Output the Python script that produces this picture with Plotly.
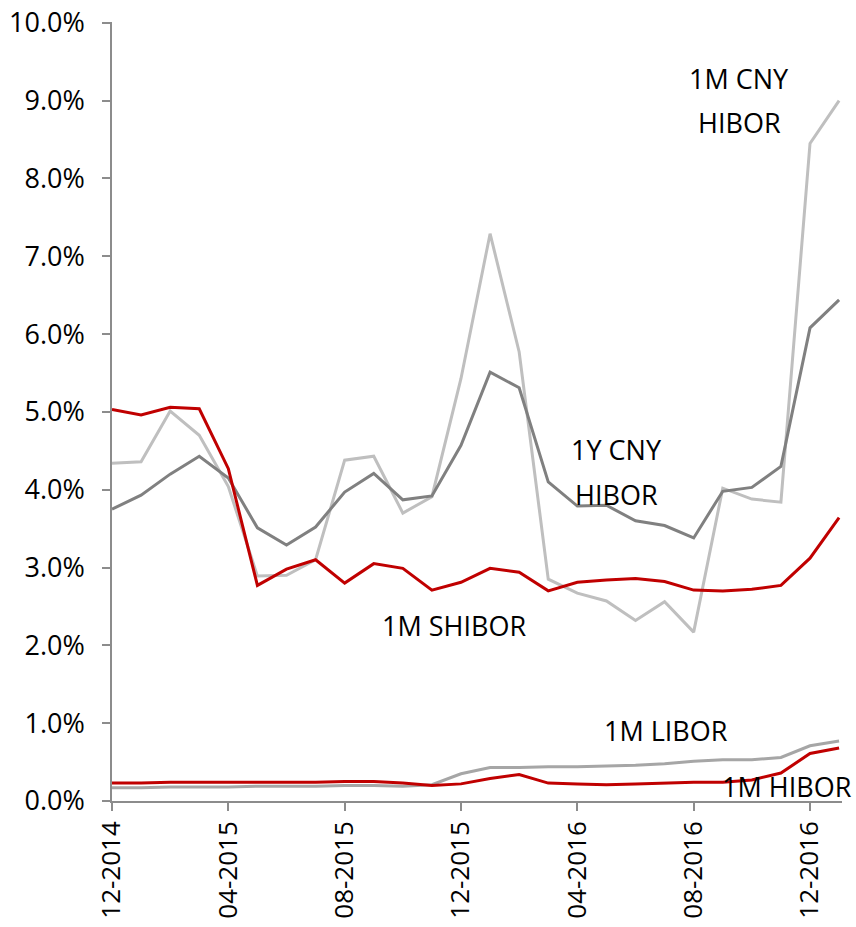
import plotly.graph_objects as go

months = ["12-2014", "01-2015", "02-2015", "03-2015", "04-2015", "05-2015", "06-2015",
          "07-2015", "08-2015", "09-2015", "10-2015", "11-2015", "12-2015", "01-2016",
          "02-2016", "03-2016", "04-2016", "05-2016", "06-2016", "07-2016", "08-2016",
          "09-2016", "10-2016", "11-2016", "12-2016", "01-2017"]
tick_labels = ["12-2014", "04-2015", "08-2015", "12-2015", "04-2016", "08-2016", "12-2016"]

cny_1m_hibor = [4.34, 4.36, 5.01, 4.70, 4.04, 2.89, 2.90, 3.10, 4.38, 4.43, 3.70, 3.91, 5.43,
                7.29, 5.77, 2.85, 2.67, 2.57, 2.32, 2.56, 2.17, 4.02, 3.88, 3.84, 8.45, 9.00]
cny_1y_hibor = [3.75, 3.93, 4.20, 4.43, 4.15, 3.51, 3.29, 3.52, 3.97, 4.21, 3.87, 3.92, 4.57,
                5.51, 5.31, 4.10, 3.79, 3.80, 3.60, 3.54, 3.38, 3.98, 4.03, 4.30, 6.08, 6.44]
shibor_1m = [5.03, 4.96, 5.06, 5.04, 4.27, 2.77, 2.98, 3.10, 2.80, 3.05, 2.99, 2.71, 2.81,
             2.99, 2.94, 2.70, 2.81, 2.84, 2.86, 2.82, 2.71, 2.70, 2.72, 2.77, 3.12, 3.64]
libor_1m = [0.17, 0.17, 0.18, 0.18, 0.18, 0.19, 0.19, 0.19, 0.20, 0.20, 0.19, 0.21, 0.35,
            0.43, 0.43, 0.44, 0.44, 0.45, 0.46, 0.48, 0.51, 0.53, 0.53, 0.56, 0.71, 0.77]
hibor_1m = [0.23, 0.23, 0.24, 0.24, 0.24, 0.24, 0.24, 0.24, 0.25, 0.25, 0.23, 0.20, 0.22,
            0.29, 0.34, 0.23, 0.22, 0.21, 0.22, 0.23, 0.24, 0.24, 0.27, 0.36, 0.61, 0.68]

FONT = "Open Sans"
series = [
    ("1M LIBOR", libor_1m, "#A6A6A6"),
    ("1M HIBOR", hibor_1m, "#C00000"),
    ("1M CNY HIBOR", cny_1m_hibor, "#BFBFBF"),
    ("1Y CNY HIBOR", cny_1y_hibor, "#808080"),
    ("1M SHIBOR", shibor_1m, "#C00000"),
]

fig = go.Figure()
for name, vals, col in series:
    fig.add_trace(go.Scatter(x=months, y=[v / 100 for v in vals], mode="lines", name=name,
                             line=dict(color=col, width=3), cliponaxis=False))

labels = [
    ("1M CNY", 21.57, 0.0929),
    ("HIBOR", 21.57, 0.0872),
    ("1Y CNY", 17.34, 0.0452),
    ("HIBOR", 17.34, 0.0394),
    ("1M SHIBOR", 11.77, 0.0225),
    ("1M LIBOR", 19.06, 0.0090),
    ("1M HIBOR", 23.22, 0.0019),
]
for txt, xx, yy in labels:
    fig.add_annotation(x=xx, y=yy, xref="x", yref="y", text=txt, showarrow=False,
                       font=dict(family=FONT, size=27, color="black"),
                       xanchor="center", yanchor="middle")

fig.update_layout(
    width=856, height=927,
    margin=dict(l=112, r=14, t=22, b=126),
    paper_bgcolor="white", plot_bgcolor="white",
    showlegend=False,
    font=dict(family=FONT, size=26, color="black"),
)
fig.update_xaxes(
    type="category", range=[0, 25.1], automargin=False,
    tickmode="array", tickvals=tick_labels, ticktext=tick_labels,
    tickangle=-90, ticks="outside", ticklen=8, tickcolor="#8C8C8C", tickwidth=1.5,
    ticklabeloverflow="allow",
    showline=True, linecolor="#8C8C8C", linewidth=1.5,
    showgrid=False, zeroline=False,
    tickfont=dict(family=FONT, size=26, color="black"),
)
fig.update_yaxes(
    range=[0, 0.1001], tickmode="array",
    tickvals=[i / 100 for i in range(11)], tickformat=".1%", automargin=False,
    ticks="outside", ticklen=8, tickcolor="#8C8C8C", tickwidth=1.5,
    ticklabelstandoff=12, ticklabeloverflow="allow",
    showline=True, linecolor="#8C8C8C", linewidth=1.5,
    showgrid=False, zeroline=False,
    tickfont=dict(family=FONT, size=27, color="black"),
)

fig.write_html("out.html", config={"displayModeBar": False},
               post_script="document.body.style.margin='0';")
